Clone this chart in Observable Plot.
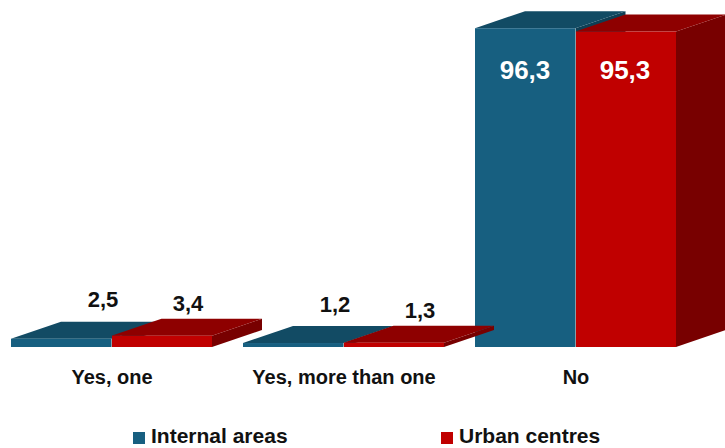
<!DOCTYPE html>
<html>
<head>
<meta charset="utf-8">
<script src="https://cdn.jsdelivr.net/npm/d3@7"></script>
<script src="https://cdn.jsdelivr.net/npm/@observablehq/plot@0.6"></script>
<style>
  html, body { margin: 0; padding: 0; background: #fff; overflow: hidden; }
  #wrap { width: 725px; height: 448px; position: relative; overflow: hidden; }
  #legend { position: absolute; left: 0; top: 400px; width: 725px; height: 48px;
    font-family: "Liberation Sans", Arial, sans-serif; font-weight: bold; font-size: 21px; color: #111; }
  .item { position: absolute; top: 0; height: 48px; }
  .sw { position: absolute; top: 32px; width: 12px; height: 12px; }
  .lab { position: absolute; top: 28px; white-space: nowrap; line-height: 16px; }
</style>
</head>
<body>
<div id="wrap"><div id="chart"></div><div id="legend"></div></div>
<script>
const categories = ["Yes, one", "Yes, more than one", "No"];
const series = ["Internal areas", "Urban centres"];
const internalValues = [2.5, 1.2, 96.3];
const urbanValues = [3.4, 1.3, 95.3];

const colors = {
  "Internal areas": {front: "#175f80", top: "#124b64", side: "#0e3f55"},
  "Urban centres": {front: "#c00000", top: "#8e0000", side: "#780000"}
};
const depth = {dx: 50, dy: -17};

const fmt = v => String(v).replace(".", ",");
const rowsFor = (name, vals) => categories.map((c, i) => ({category: c, series: name, value: vals[i], label: fmt(vals[i])}));
const internalRows = rowsFor(series[0], internalValues);
const urbanRows = rowsFor(series[1], urbanValues);

// top and side faces of the 3D bars, drawn with the plot's own scales
function faces(rows, slot, col) {
  return (index, scales) => {
    const {x, y} = scales;
    const g = d3.create("svg:g");
    const half = x.bandwidth() / 2;
    for (const r of rows) {
      const x0 = x(r.category) + slot * half, x1 = x0 + half;
      const yb = y(0), yt = y(r.value);
      g.append("polygon")
        .attr("points", [[x1, yt], [x1 + depth.dx, yt + depth.dy], [x1 + depth.dx, yb + depth.dy], [x1, yb]].join(" "))
        .attr("fill", col.side);
      g.append("polygon")
        .attr("points", [[x0, yt], [x0 + depth.dx, yt + depth.dy], [x1 + depth.dx, yt + depth.dy], [x1, yt]].join(" "))
        .attr("fill", col.top);
    }
    return g.node();
  };
}

const small = d => d.value < 50;
const big = d => d.value >= 50;
const outFont = {fontFamily: "Liberation Sans, Arial, sans-serif", fontWeight: "bold", fontSize: 22, letterSpacing: 1.5, fill: "#111", lineAnchor: "bottom", textAnchor: "middle"};
const inFont = {fontFamily: "Liberation Sans, Arial, sans-serif", fontWeight: "bold", fontSize: 26, letterSpacing: 1.5, fill: "#fff", lineAnchor: "bottom", textAnchor: "middle"};

const chart = Plot.plot({
  width: 725,
  height: 400,
  marginLeft: 10,
  marginRight: 47,
  marginTop: 16,
  marginBottom: 53,
  style: {background: "transparent", overflow: "visible"},
  x: {type: "band", domain: categories, paddingInner: 0.133, paddingOuter: 0},
  y: {domain: [0, 100], axis: null},
  marks: [
    faces(internalRows, 0, colors[series[0]]),
    Plot.barY(internalRows, {x: "category", y: "value", fill: colors[series[0]].front, insetRight: 101}),
    faces(urbanRows, 1, colors[series[1]]),
    Plot.barY(urbanRows, {x: "category", y: "value", fill: colors[series[1]].front, insetLeft: 101}),
    Plot.text(internalRows, {filter: small, x: "category", y: "value", text: "label", dx: -9, dy: -32, ...outFont}),
    Plot.text(urbanRows, {filter: small, x: "category", y: "value", text: "label", dx: 76, dy: -25, ...outFont}),
    Plot.text(internalRows, {filter: big, x: "category", y: "value", text: "label", dx: -51, dy: 50, ...inFont}),
    Plot.text(urbanRows, {filter: big, x: "category", y: "value", text: "label", dx: 49, dy: 47, ...inFont}),
    Plot.axisX({tickSize: 0, tickPadding: 22, fontSize: 20, fontWeight: "bold", fontFamily: "Liberation Sans, Arial, sans-serif", fill: "#111", label: null})
  ]
});
document.getElementById("chart").appendChild(chart);

const legend = d3.select("#legend");
const legendLeft = [133, 441];
series.forEach((s, i) => {
  const it = legend.append("div").attr("class", "item").style("left", legendLeft[i] + "px");
  it.append("div").attr("class", "sw").style("left", "0px").style("background", colors[s].front);
  it.append("div").attr("class", "lab").style("left", "18px").text(s);
});
</script>
</body>
</html>
